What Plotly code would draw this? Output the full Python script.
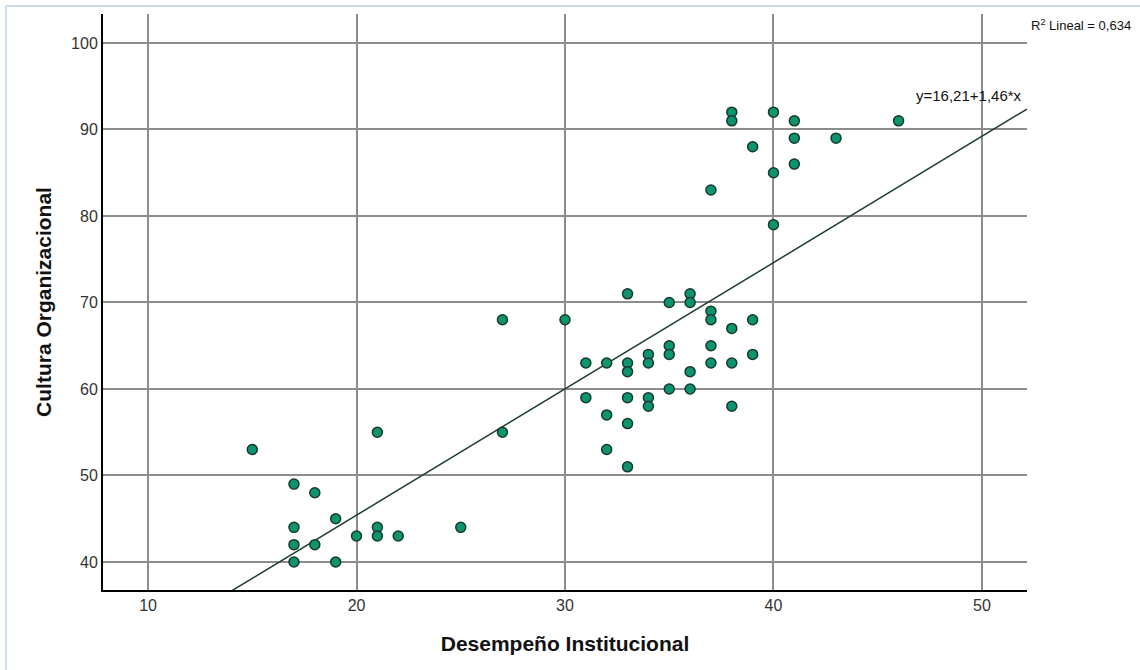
import plotly.graph_objects as go

# Data
desempeno = [15, 17, 17, 17, 17, 18, 18, 19, 19, 20, 21, 21, 21, 22, 25, 27, 27, 30,
             31, 31, 32, 32, 32, 33, 33, 33, 33, 33, 33, 34, 34, 34, 34,
             35, 35, 35, 35, 36, 36, 36, 36, 37, 37, 37, 37, 37,
             38, 38, 38, 38, 38, 39, 39, 39, 40, 40, 40, 41, 41, 41, 43, 46]
cultura = [53, 49, 44, 42, 40, 48, 42, 45, 40, 43, 55, 44, 43, 43, 44, 68, 55, 68,
           63, 59, 63, 57, 53, 71, 63, 62, 59, 56, 51, 64, 63, 59, 58,
           70, 65, 64, 60, 71, 70, 62, 60, 69, 68, 65, 63, 83,
           92, 91, 67, 63, 58, 88, 68, 64, 92, 85, 79, 91, 89, 86, 89, 91]

intercept = 16.21
slope = 1.46
r2_text = "R<sup>2</sup> Lineal = 0,634"
eq_text = "y=16,21+1,46*x"

x_range = [7.84, 52.16]
y_range = [36.76, 103.35]
x_ticks = [10, 20, 30, 40, 50]
y_ticks = [40, 50, 60, 70, 80, 90, 100]

fig = go.Figure()

line_x = x_range
line_y = [intercept + slope * v for v in line_x]
fig.add_trace(go.Scatter(
    x=line_x, y=line_y, mode="lines",
    line=dict(color="#1f3d2a", width=1.5),
    hoverinfo="skip", showlegend=False,
))

fig.add_trace(go.Scatter(
    x=desempeno, y=cultura, mode="markers",
    marker=dict(size=10, color="#0c9470", line=dict(color="#173a29", width=1.5)),
    showlegend=False,
))

fig.update_layout(
    width=1140, height=670,
    margin=dict(l=103, r=113, t=14, b=80),
    paper_bgcolor="white", plot_bgcolor="white",
    font=dict(family="Liberation Sans, Arial, sans-serif", color="#222"),
    xaxis=dict(
        range=x_range, tickvals=x_ticks, showgrid=True, gridcolor="#8c8c8c", gridwidth=1.5,
        showline=True, linecolor="black", linewidth=2, zeroline=False,
        ticks="", tickfont=dict(size=16, color="#333"),
        title=dict(text="<b>Desempeño Institucional</b>", font=dict(size=21, color="#111"), standoff=23),
    ),
    yaxis=dict(
        range=y_range, tickvals=y_ticks, showgrid=True, gridcolor="#8c8c8c", gridwidth=1.5,
        showline=True, linecolor="black", linewidth=2, zeroline=False,
        ticks="", tickfont=dict(size=16, color="#333"),
        title=dict(text="<b>Cultura Organizacional</b>", font=dict(size=21, color="#111"), standoff=14),
    ),
    annotations=[
        dict(text=eq_text, xref="paper", x=0.997, xanchor="right",
             yref="y", y=93.9, yanchor="middle", showarrow=False,
             font=dict(size=15, color="#111")),
        dict(text=r2_text, xref="paper", x=1.002, xanchor="left",
             yref="paper", y=0.981, yanchor="middle", showarrow=False,
             font=dict(size=13, color="#111")),
    ],
    shapes=[
        dict(type="line", xref="paper", yref="paper", x0=-0.105, x1=1.2, y0=1.0139, y1=1.0139,
             line=dict(color="#cfdcef", width=2)),
        dict(type="line", xref="paper", yref="paper", x0=-0.105, x1=-0.105, y0=-0.2, y1=1.0139,
             line=dict(color="#cfdcef", width=2)),
    ],
)

fig.write_html("out.html", config={"displayModeBar": False},
               post_script="document.body.style.margin='0px';")
